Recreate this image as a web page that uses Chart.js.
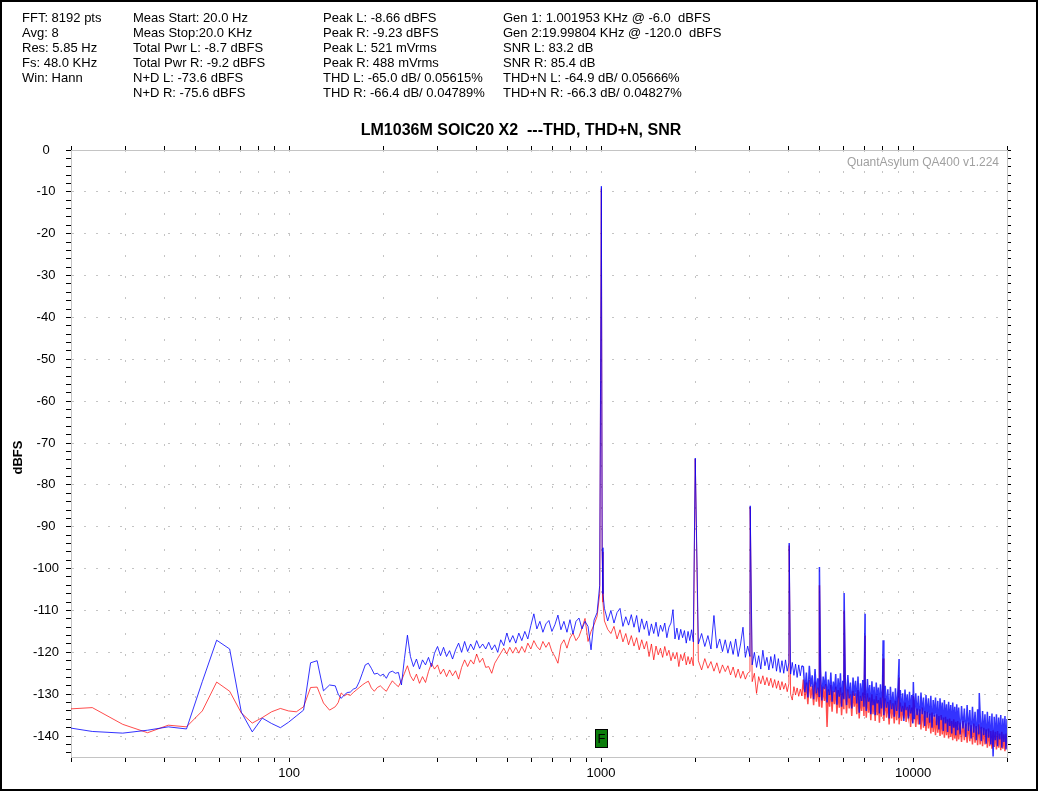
<!DOCTYPE html>
<html>
<head>
<meta charset="utf-8">
<title>LM1036M SOIC20 X2 ---THD, THD+N, SNR</title>
<script src="https://cdn.jsdelivr.net/npm/chart.js@4.4.1/dist/chart.umd.min.js"></script>
<style>
  html, body { margin: 0; padding: 0; background: #fff; }
  #wrap { width: 1040px; height: 792px; }
</style>
</head>
<body>
<div id="wrap"><canvas id="fftChart" width="1040" height="792"></canvas></div>
<script>
// frequency of each plotted point (Hz), shared by both channels
const freqHz = [
  // FFT bins below 150 Hz
  20, 23.4, 29.3, 35.2, 41.0, 46.9, 52.7, 58.6, 64.5, 70.3, 76.2, 82.0, 87.9, 93.8, 99.6, 105.5, 111.3, 117.2, 123.0, 128.9, 134.8, 140.6,
  143.7, 146.9, 150.2, 153.6, 157.1, 160.6, 164.2, 167.9, 171.7, 175.5,
  179.5, 183.5, 187.6, 191.8, 196.1, 200.5, 205.0, 209.6, 214.3, 219.2,
  224.1, 229.1, 234.3, 239.5, 244.9, 250.4, 256.0, 261.8, 267.7, 273.7,
  279.8, 286.1, 292.5, 299.1, 305.8, 312.7, 319.7, 326.9, 334.2, 341.7,
  349.4, 357.3, 365.3, 373.5, 381.9, 390.5, 399.2, 408.2, 417.4, 426.8,
  436.4, 446.2, 456.2, 466.4, 476.9, 487.6, 498.6, 509.8, 521.2, 532.9,
  544.9, 557.1, 569.6, 582.4, 595.5, 608.9, 622.6, 636.6, 650.9, 665.5,
  680.4, 695.7, 711.3, 727.3, 743.6, 760.3, 777.4, 794.9, 812.7, 831.0,
  849.7, 868.8, 888.3, 908.2, 928.6, 949.5, 970.8,
  // fundamental
  990, 996.1, 1002, 1008, 1014,
  1025, 1050, 1075, 1100, 1125, 1150, 1175, 1200, 1225, 1250,
  1275, 1300, 1325, 1350, 1375, 1400, 1425, 1450, 1475, 1500,
  1525, 1550, 1575, 1600, 1625, 1650, 1675, 1700, 1725, 1750,
  1775, 1800, 1825, 1850, 1875, 1900, 1925, 1950, 1975,
  2003.9,
  2050, 2100, 2150, 2200, 2250, 2300, 2350, 2400, 2450, 2500,
  2550, 2600, 2650, 2700, 2750, 2800, 2850, 2900, 2950, 3000,
  3005.9,
  3050, 3100, 3150, 3200, 3250, 3300, 3350, 3400, 3450, 3500,
  3550, 3600, 3650, 3700, 3750, 3800, 3850, 3900, 3950, 4000,
  4007.8,
  4050, 4100, 4150, 4200, 4250, 4300, 4350, 4400,
  4450, 4500, 4550, 4600, 4650, 4700, 4750, 4800, 4850, 4900, 4950, 5000,
  5009.8,
  5050, 5100, 5150, 5200, 5250, 5300, 5350, 5400, 5450, 5500,
  5550, 5600, 5650, 5700, 5750, 5800, 5850, 5900, 5950, 6000,
  6011.7,
  6060, 6120, 6180, 6240, 6300, 6360, 6420, 6480, 6540, 6600, 6660, 6720, 6780, 6840, 6900, 6960,
  7013.7,
  7020, 7080, 7140, 7200, 7260, 7320, 7380, 7440, 7500, 7560, 7620, 7680, 7740, 7800, 7860, 7920, 7980,
  8015.6,
  8060, 8140, 8220, 8300, 8380, 8460, 8540, 8620, 8700, 8780, 8860, 8940,
  9017.6,
  9020, 9100, 9180, 9260, 9340, 9420, 9500, 9580, 9660, 9740, 9820, 9900, 9980,
  10019.5,
  10100, 10200, 10300, 10400, 10500, 10600, 10700, 10800, 10900, 11000,
  11100, 11200, 11300, 11400, 11500, 11600, 11700, 11800, 11900, 12000,
  12100, 12200, 12300, 12400, 12500, 12600, 12700, 12800, 12900, 13000,
  13100, 13200, 13300, 13400, 13500, 13600, 13700, 13800, 13900, 14000,
  14150, 14300, 14450, 14600, 14750, 14900, 15050, 15200, 15350, 15500, 15650, 15800, 15950, 16100, 16250,
  16300,
  16400, 16550, 16700, 16850, 17000, 17150, 17300, 17450, 17600, 17750, 17900, 18050, 18200,
  18350, 18500, 18650, 18800, 18950, 19100, 19250, 19400, 19550, 19700, 19850, 20000, 20150
];

// blue trace
const leftDb = [
  -138.1, -138.9, -139.3, -138.6, -137.8, -138.3, -127.0, -117.1, -119.2, -134.3, -139.0, -135.7, -137.0, -138.0, -136.7, -135.2, -133.8, -122.5, -122.0, -129.2, -127.8, -128.0,
  -130.0, -131.0, -130.2, -129.6, -129.5, -128.8, -128.5, -127.0, -125.0, -123.0,
  -122.6, -123.8, -125.2, -125.0, -125.6, -125.2, -126.2, -124.8, -124.5, -125.0,
  -124.8, -127.8, -121.5, -115.9, -121.0, -123.4, -121.6, -124.0, -121.8, -123.0,
  -121.2, -123.4, -120.2, -118.6, -120.8, -118.8, -121.0, -119.6, -121.6, -119.4,
  -117.8, -120.0, -117.4, -119.8, -118.0, -119.4, -117.2, -119.0, -118.0, -119.2,
  -117.6, -119.4, -118.2, -120.0, -117.0, -118.4, -115.4, -117.6, -116.0, -117.8,
  -115.4, -117.2, -115.0, -116.8, -113.6, -110.8, -114.4, -112.6, -115.2, -113.2,
  -112.4, -115.0, -113.4, -111.1, -114.6, -112.6, -115.2, -112.2, -115.6, -112.6,
  -111.8, -114.4, -112.6, -113.8, -119.4, -112.3, -110.5,
  -104.0, -55.0, -8.66, -95.0, -106.0,
  -109.5, -112.5, -110.0, -113.0, -110.5, -109.5, -113.8, -111.5, -113.5, -111.0,
  -114.0, -111.2, -115.2, -112.0, -114.5, -112.5, -116.0, -113.2, -115.5, -112.8,
  -116.2, -113.5, -115.0, -113.0, -116.5, -114.0, -113.0, -109.8, -116.8, -114.2,
  -117.0, -114.5, -116.5, -114.8, -117.8, -115.0, -117.2, -114.6, -117.5,
  -73.6,
  -118.0, -115.5, -118.6, -116.0, -119.2, -111.2, -119.0, -116.8, -119.8, -117.0,
  -120.2, -117.4, -120.5, -116.8, -121.0, -118.0, -114.0, -121.2, -118.5, -121.0,
  -85.0,
  -123.0, -120.0, -123.6, -120.8, -124.0, -119.5, -123.2, -121.2, -124.2, -121.0,
  -123.8, -120.5, -124.5, -121.5, -124.8, -122.0, -125.0, -121.8, -124.5, -122.5,
  -93.9,
  -125.2, -122.4, -125.5, -122.8, -126.0, -123.0, -125.6, -123.2,
  -123.5, -129.5, -124.8, -130.8, -123.2, -128.2, -125.5, -131.2, -124.0, -129.8, -126.2, -130.5,
  -99.6,
  -124.2, -131.5, -125.8, -128.8, -124.6, -132.0, -126.5, -130.2, -124.8, -131.8,
  -127.0, -129.5, -125.2, -132.5, -126.2, -130.6, -125.0, -133.0, -126.8, -131.2,
  -105.8,
  -126.0, -132.6, -125.4, -131.0, -127.2, -133.4, -126.0, -130.4, -126.8, -132.2, -125.8, -134.4, -127.4, -131.6, -126.6, -133.0,
  -110.8,
  -127.0, -134.0, -126.4, -131.8, -127.8, -134.8, -126.9, -132.6, -128.2, -135.0, -127.2, -132.2, -128.4, -134.6, -127.6, -133.4, -128.6,
  -117.1,
  -135.0, -128.0, -133.2, -128.8, -135.8, -128.2, -133.6, -129.4, -135.4, -128.6, -134.0, -129.2,
  -121.6,
  -135.6, -129.0, -134.2, -129.8, -136.4, -128.9, -133.8, -130.0, -135.8, -129.4, -134.6, -130.2, -137.0,
  -127.1,
  -136.0, -129.8, -135.0, -130.4, -137.2, -129.6, -134.8, -130.8, -137.6, -130.2,
  -135.6, -131.0, -136.8, -130.4, -138.0, -131.4, -135.4, -130.8, -137.4, -131.6,
  -138.4, -131.0, -136.2, -132.0, -138.8, -131.4, -137.0, -132.4, -139.0, -131.8,
  -137.6, -132.6, -139.4, -132.0, -138.0, -133.0, -139.8, -132.4, -138.6, -133.2,
  -139.6, -132.8, -138.2, -133.4, -140.2, -132.6, -138.8, -133.8, -140.6, -133.0, -139.2, -134.2, -141.0, -133.6, -139.6,
  -129.7,
  -134.6, -141.2, -134.0, -139.8, -134.8, -141.8, -134.2, -140.4, -135.2, -142.0, -134.6, -144.9, -135.4,
  -141.0, -134.8, -142.4, -135.6, -140.8, -135.0, -142.8, -135.8, -141.4, -135.2, -143.2, -135.9, -142.6
];

// red trace
const rightDb = [
  -133.5, -133.2, -137.2, -139.2, -137.4, -137.8, -134.0, -127.1, -129.3, -134.5, -136.9, -135.6, -134.2, -133.4, -134.0, -134.2, -133.0, -128.4, -128.3, -132.1, -133.8, -133.0,
  -132.0, -129.7, -130.4, -130.0, -130.3, -129.6, -129.0, -128.4, -127.8, -127.3,
  -126.9, -128.5, -129.3, -128.4, -128.0, -128.7, -129.3, -128.0, -126.8, -127.6,
  -128.2, -126.8, -125.0, -123.2, -125.6, -126.8, -125.2, -127.4, -125.8, -127.2,
  -124.6, -122.6, -124.0, -123.0, -125.2, -124.0, -125.8, -124.2, -125.6, -124.4,
  -126.4, -123.6, -121.8, -123.4, -121.8, -122.8, -120.4, -122.4, -121.4, -123.6,
  -123.4, -125.0, -122.6, -121.4, -120.2, -119.0, -120.4, -118.8, -120.2, -118.8,
  -120.2, -118.6, -120.0, -117.8, -119.2, -117.2, -118.6, -119.4, -117.4, -118.8,
  -117.6, -119.8, -121.0, -122.6, -118.2, -117.0, -119.0, -116.6, -115.4, -117.2,
  -116.2, -114.2, -111.9, -117.4, -115.0, -113.4, -111.4,
  -106.0, -57.0, -9.23, -96.0, -108.0,
  -112.5, -114.5, -115.5, -113.8, -116.8, -114.6, -117.5, -115.5, -118.2, -116.0,
  -118.5, -116.5, -119.4, -117.0, -119.2, -117.4, -121.0, -118.0, -121.8, -118.5,
  -120.6, -119.0, -121.2, -118.6, -120.8, -119.5, -122.0, -120.2, -121.6, -120.0,
  -123.4, -120.5, -122.0, -120.2, -123.0, -121.0, -122.8, -121.2, -123.2,
  -73.8,
  -122.0, -124.2, -121.5, -123.8, -122.2, -124.5, -122.5, -125.0, -123.0, -124.6,
  -123.2, -125.4, -123.5, -126.0, -124.0, -126.2, -124.5, -126.4, -125.0, -124.6,
  -85.3,
  -127.0, -125.0, -129.8, -125.8, -127.5, -125.6, -127.8, -126.0, -128.0, -126.2,
  -128.4, -126.5, -128.6, -126.8, -129.0, -127.0, -128.8, -127.4, -129.4, -127.5,
  -94.5,
  -130.0, -131.4, -128.2, -130.2, -128.5, -130.5, -128.8, -130.4,
  -126.5, -131.2, -127.2, -132.4, -126.6, -131.0, -128.0, -132.6, -127.0, -131.8, -128.4, -132.8,
  -104.0,
  -127.4, -133.2, -128.2, -131.6, -127.6, -137.8, -128.8, -133.0, -127.8, -134.2,
  -129.2, -132.4, -128.2, -134.6, -129.0, -133.2, -128.4, -135.0, -129.6, -133.6,
  -110.0,
  -129.4, -134.6, -128.8, -133.4, -130.0, -135.2, -129.2, -133.0, -129.8, -134.8, -129.0, -135.8, -130.4, -134.0, -129.6, -135.2,
  -116.0,
  -130.2, -135.6, -129.8, -134.4, -130.8, -136.2, -130.0, -134.8, -131.2, -136.4, -130.4, -135.0, -131.4, -136.8, -130.8, -135.4, -131.6,
  -121.5,
  -136.4, -131.0, -135.6, -131.8, -137.2, -131.4, -135.8, -132.2, -137.0, -131.6, -136.2, -132.4,
  -126.0,
  -137.2, -132.0, -136.4, -132.8, -135.8, -132.0, -136.6, -133.0, -135.4, -132.6, -137.8, -133.2, -136.8,
  -130.5,
  -133.0, -137.8, -133.4, -137.2, -133.6, -138.4, -133.2, -138.0, -134.0, -138.8,
  -134.2, -138.2, -134.6, -139.4, -134.4, -139.0, -135.0, -139.8, -134.8, -139.2,
  -135.2, -140.0, -135.0, -139.6, -135.6, -140.4, -135.4, -139.8, -136.0, -140.6,
  -135.8, -140.2, -136.4, -141.0, -136.0, -140.6, -136.6, -141.2, -136.4, -140.8,
  -136.8, -141.4, -136.4, -141.0, -137.0, -141.6, -136.8, -141.2, -137.4, -142.0, -137.0, -141.6, -137.6, -142.2, -137.2,
  -138.0,
  -142.0, -137.8, -142.4, -138.0, -142.0, -138.4, -142.8, -138.2, -142.4, -138.8, -143.0, -138.6, -142.6,
  -139.0, -143.2, -138.8, -142.8, -139.4, -143.4, -139.0, -143.0, -139.6, -143.6, -139.4, -143.0, -141.7
];

// axes
const xTickValues = [20, 30, 40, 50, 60, 70, 80, 90, 100, 200, 300, 400, 500, 600, 700, 800, 900,
  1000, 2000, 3000, 4000, 5000, 6000, 7000, 8000, 9000, 10000, 20000];
const xLabelValues = [100, 1000, 10000];
const yLabelValues = [0, -10, -20, -30, -40, -50, -60, -70, -80, -90, -100, -110, -120, -130, -140];
const yMin = -145;
const yMax = 0;
const yMinorStep = 2;

const chartTitle = 'LM1036M SOIC20 X2  ---THD, THD+N, SNR';
const watermark = 'QuantAsylum QA400 v1.224';
const markerHz = 1002;

const headerColumns = [
  { x: 22, lines: ['FFT: 8192 pts', 'Avg: 8', 'Res: 5.85 Hz', 'Fs: 48.0 KHz', 'Win: Hann'] },
  { x: 133, lines: ['Meas Start: 20.0 Hz', 'Meas Stop:20.0 KHz', 'Total Pwr L: -8.7 dBFS', 'Total Pwr R: -9.2 dBFS', 'N+D L: -73.6 dBFS', 'N+D R: -75.6 dBFS'] },
  { x: 323, lines: ['Peak L: -8.66 dBFS', 'Peak R: -9.23 dBFS', 'Peak L: 521 mVrms', 'Peak R: 488 mVrms', 'THD L: -65.0 dB/ 0.05615%', 'THD R: -66.4 dB/ 0.04789%'] },
  { x: 503, lines: ['Gen 1: 1.001953 KHz @ -6.0  dBFS', 'Gen 2:19.99804 KHz @ -120.0  dBFS', 'SNR L: 83.2 dB', 'SNR R: 85.4 dB', 'THD+N L: -64.9 dB/ 0.05666%', 'THD+N R: -66.3 dB/ 0.04827%'] }
];

const FONT = '"Liberation Sans", Arial, sans-serif';
const gridGrey = '#c4c4c4';

function yMinorTicks() {
  const t = [];
  for (let v = -144; v <= yMax; v += yMinorStep) t.push({ value: v });
  return t;
}

function xTicks() {
  return xTickValues.map(v => ({ value: v }));
}

// the dense noise band above ~4 kHz reads as a thicker stroke
function segWidth(c) {
  return c.p1.parsed.x > 4420 ? 1.5 : 1;
}

const decorations = {
  id: 'decorations',
  beforeDraw(chart) {
    const c = chart.ctx;
    c.save();
    c.fillStyle = '#fff';
    c.fillRect(0, 0, chart.width, chart.height);
    c.restore();
  },
  afterDraw(chart) {
    const c = chart.ctx;
    const area = chart.chartArea;
    c.save();

    // measurement readout at the top
    c.fillStyle = '#000';
    c.font = '13px ' + FONT;
    c.textBaseline = 'middle';
    c.textAlign = 'left';
    headerColumns.forEach(col => {
      col.lines.forEach((t, i) => c.fillText(t, col.x, 18 + i * 15));
    });

    c.font = 'bold 16px ' + FONT;
    c.textAlign = 'center';
    c.fillText(chartTitle, 521, 131);

    c.save();
    c.translate(18, (area.top + area.bottom) / 2 + 4);
    c.rotate(-Math.PI / 2);
    c.font = 'bold 13px ' + FONT;
    c.fillText('dBFS', 0, 0);
    c.restore();

    c.font = '12px ' + FONT;
    c.fillStyle = '#a0a0a0';
    c.textAlign = 'right';
    c.fillText(watermark, area.right - 8, area.top + 13);

    // "F" marker at the fundamental
    const mx = Math.round(chart.scales.x.getPixelForValue(markerHz));
    const my = Math.round(chart.scales.y.getPixelForValue(-140.4));
    c.fillStyle = '#0b7d0b';
    c.fillRect(mx - 6, my - 9, 13, 19);
    c.strokeStyle = '#000';
    c.lineWidth = 1;
    c.strokeRect(mx - 5.5, my - 8.5, 12, 18);
    c.fillStyle = '#000';
    c.font = '13px ' + FONT;
    c.textAlign = 'center';
    c.fillText('F', mx + 0.5, my + 1);

    // outer frame
    c.strokeStyle = '#000';
    c.lineWidth = 2;
    c.strokeRect(1, 1, 1036, 789);
    c.restore();
  }
};

Chart.defaults.font.family = FONT;
Chart.defaults.color = '#000';

const ctx = document.getElementById('fftChart').getContext('2d');
const fftChart = new Chart(ctx, {
  type: 'line',
  data: {
    datasets: [
      {
        label: 'L',
        data: freqHz.map((f, i) => ({ x: f, y: leftDb[i] })),
        borderColor: 'rgba(0, 0, 255, 0.8)',
        borderWidth: 1,
        segment: { borderWidth: segWidth },
        pointRadius: 0,
        tension: 0,
        fill: false
      },
      {
        label: 'R',
        data: freqHz.map((f, i) => ({ x: f, y: rightDb[i] })),
        borderColor: 'rgba(255, 0, 0, 0.7)',
        borderWidth: 1,
        segment: { borderWidth: segWidth },
        pointRadius: 0,
        tension: 0,
        fill: false
      }
    ]
  },
  options: {
    responsive: false,
    animation: false,
    devicePixelRatio: 1,
    layout: { padding: { top: 145, right: 28, bottom: 0, left: 0 } },
    plugins: {
      legend: { display: false },
      tooltip: { enabled: false },
      title: { display: false }
    },
    scales: {
      x: {
        type: 'logarithmic',
        position: 'bottom',
        min: 20,
        max: 20000,
        afterBuildTicks: scale => { scale.ticks = xTicks(); },
        afterFit: scale => { scale.height = 35; },
        ticks: {
          autoSkip: false,
          maxRotation: 0,
          padding: 4,
          font: { size: 13 },
          callback: v => (xLabelValues.includes(v) ? String(v) : '')
        },
        grid: { color: gridGrey, tickColor: '#000', tickLength: 5, tickBorderDash: [] },
        border: { color: gridGrey, dash: [2, 19] }
      },
      xTop: {
        type: 'logarithmic',
        position: 'top',
        min: 20,
        max: 20000,
        afterBuildTicks: scale => { scale.ticks = xTicks(); },
        afterFit: scale => { scale.height = 5; },
        ticks: { display: false },
        grid: { drawOnChartArea: false, tickColor: '#000', tickLength: 4 },
        border: { color: gridGrey }
      },
      y: {
        type: 'linear',
        position: 'left',
        min: yMin,
        max: yMax,
        afterBuildTicks: scale => { scale.ticks = yMinorTicks(); },
        afterFit: scale => { scale.width = 71; },
        ticks: {
          autoSkip: false,
          padding: 7,
          crossAlign: 'center',
          font: { size: 13 },
          callback: v => (yLabelValues.includes(v) ? String(v) : '')
        },
        grid: {
          color: c => (c.tick && c.tick.value % 10 === 0 ? gridGrey : 'rgba(0,0,0,0)'),
          tickColor: '#000',
          tickLength: 5,
          tickBorderDash: []
        },
        border: { color: gridGrey, dash: [2, 10] }
      },
      yRight: {
        type: 'linear',
        position: 'right',
        min: yMin,
        max: yMax,
        afterBuildTicks: scale => { scale.ticks = yMinorTicks(); },
        afterFit: scale => { scale.width = 5; },
        ticks: { display: false },
        grid: { drawOnChartArea: false, tickColor: '#000', tickLength: 4 },
        border: { color: gridGrey }
      }
    }
  },
  plugins: [decorations]
});
</script>
</body>
</html>
